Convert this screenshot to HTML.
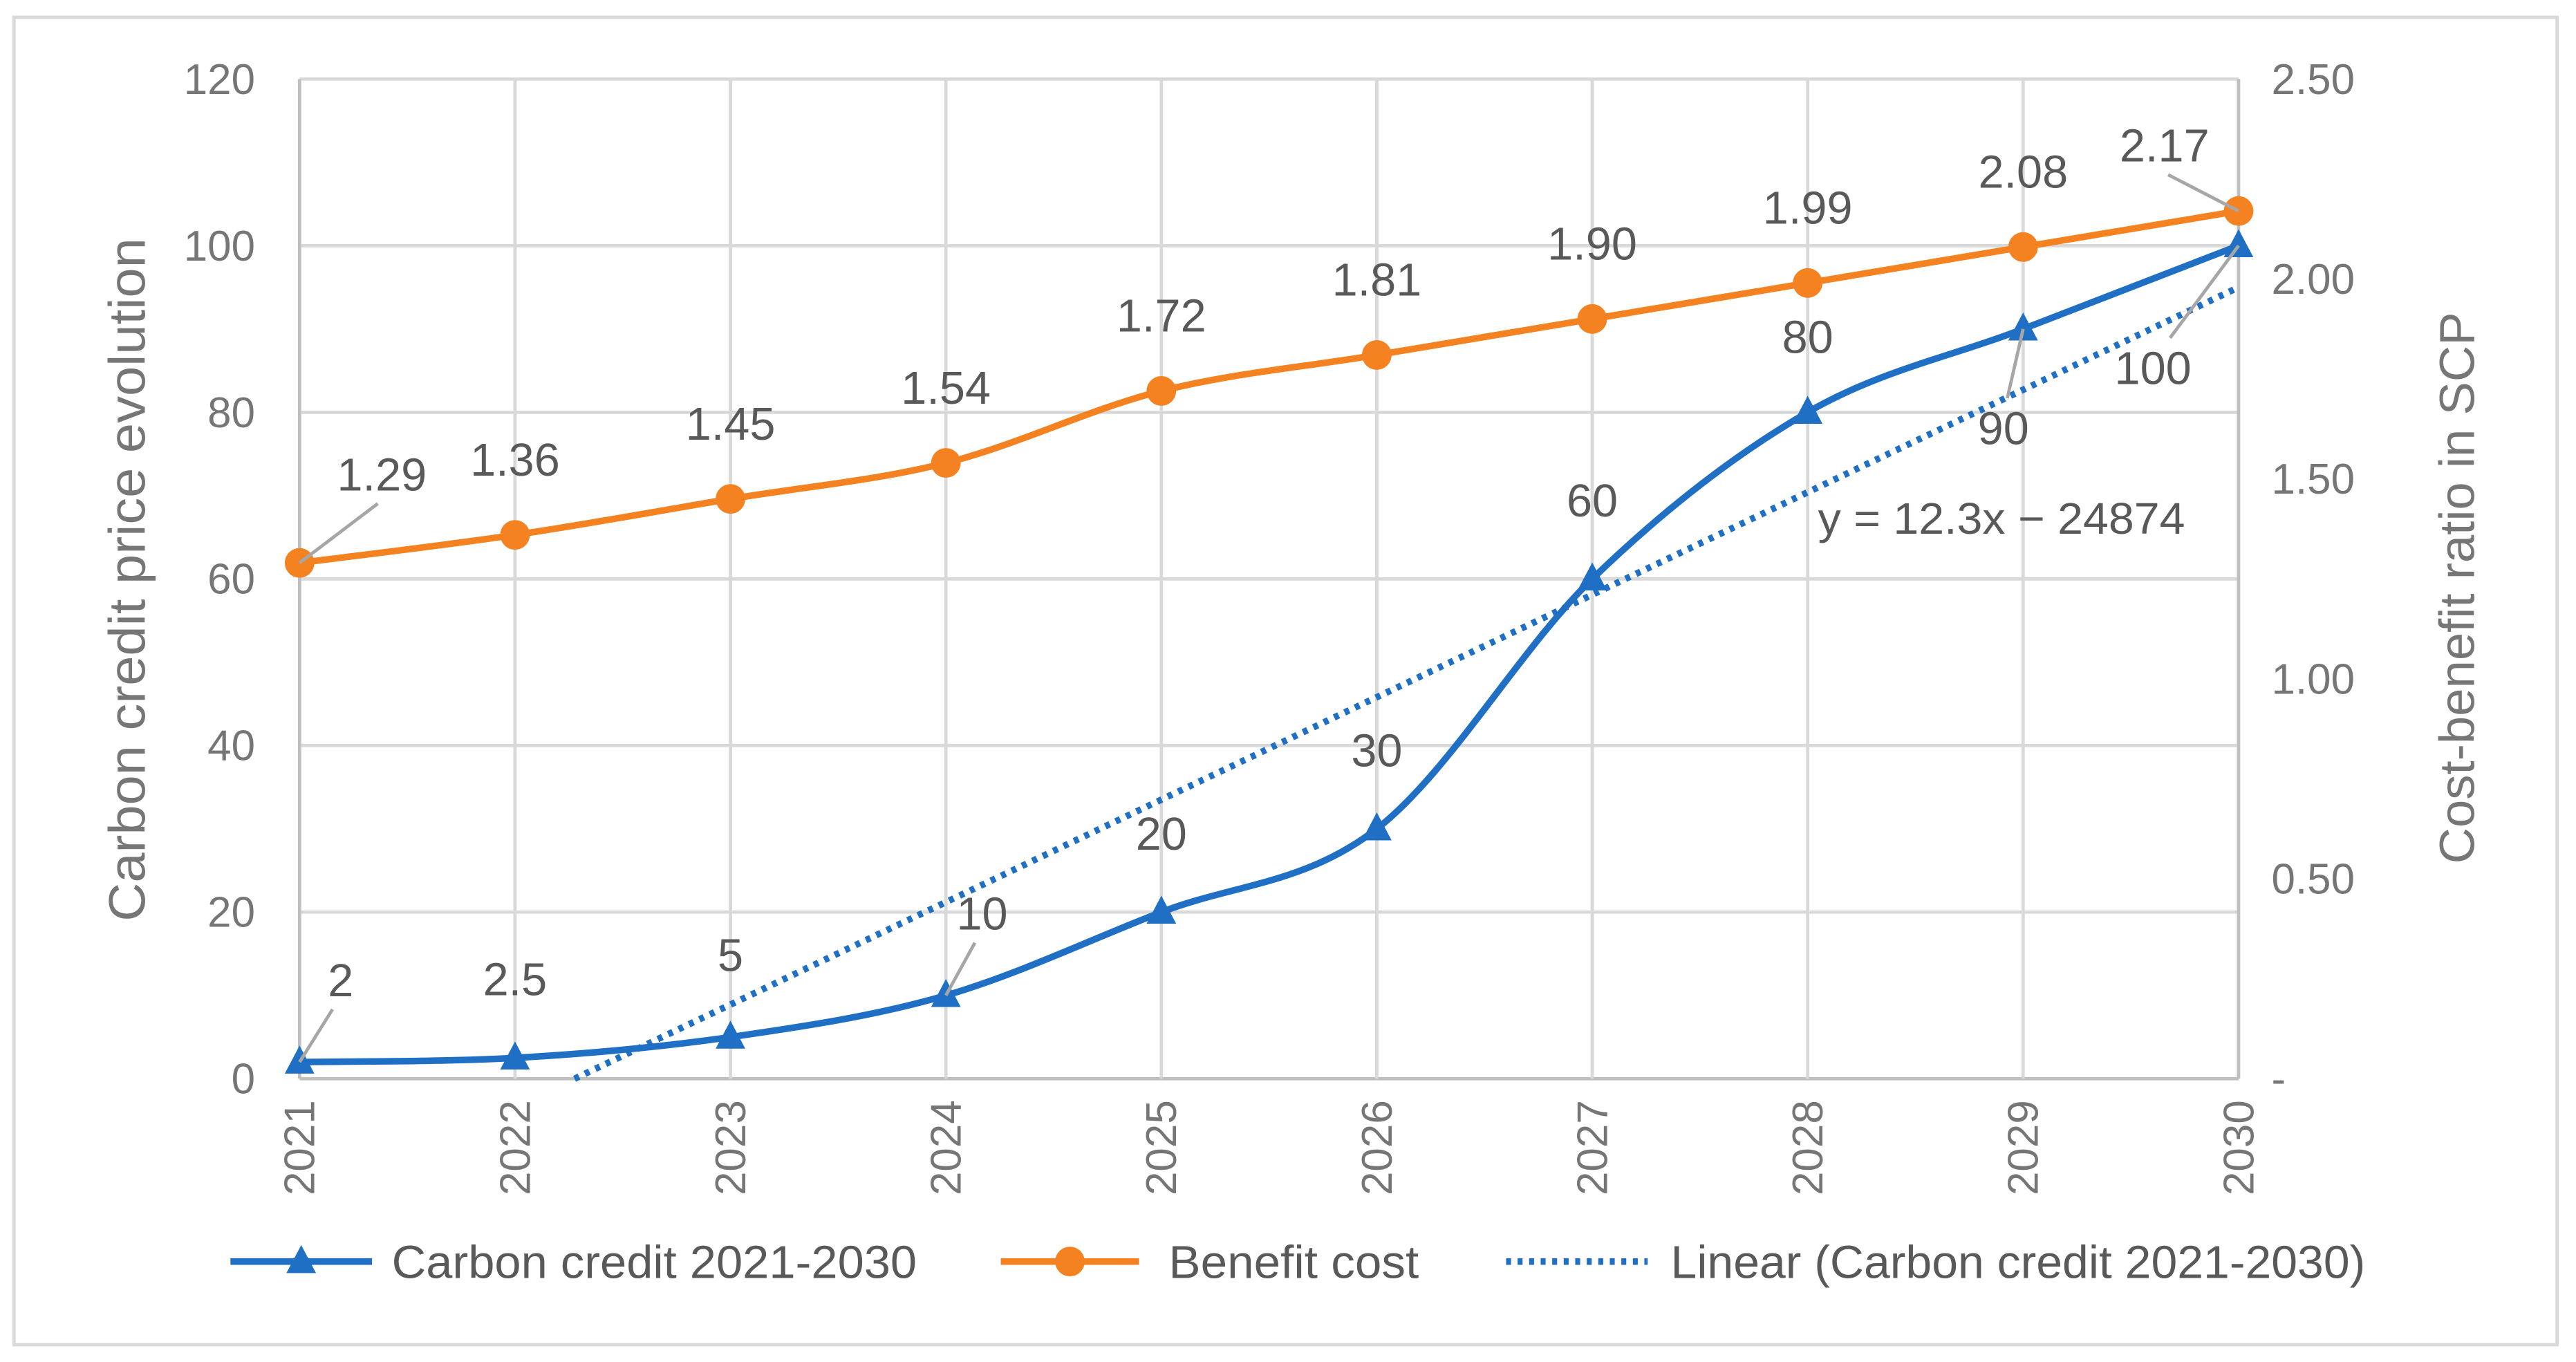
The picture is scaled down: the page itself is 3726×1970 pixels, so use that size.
<!DOCTYPE html>
<html><head><meta charset="utf-8"><style>
html,body{margin:0;padding:0;background:#fff;}
svg{display:block;font-family:"Liberation Sans",sans-serif;}
</style></head><body>
<svg id="chart" width="3726" height="1970" viewBox="0 0 1565 827" preserveAspectRatio="none" xmlns="http://www.w3.org/2000/svg">
<rect x="8.5" y="10.5" width="1545" height="806" fill="#fff" stroke="#d9d9d9" stroke-width="2"/>
<g id="grid"></g><g id="trend"></g><g id="series"></g><g id="labels"></g>
<text transform="translate(88,352) rotate(-90)" text-anchor="middle" font-size="31" fill="#767676" textLength="415" lengthAdjust="spacingAndGlyphs">Carbon credit price evolution</text>
<text transform="translate(1503,357) rotate(-90)" text-anchor="middle" font-size="30" fill="#767676" textLength="335" lengthAdjust="spacingAndGlyphs">Cost-benefit ratio in SCP</text>
<text x="1216" y="324" text-anchor="middle" font-size="27" fill="#595959" textLength="223" lengthAdjust="spacingAndGlyphs">y = 12.3x − 24874</text>
<g>
<line x1="140" y1="766" x2="226" y2="766" stroke="#1f6fc4" stroke-width="4"/>
<path d="M183,756 L192,773 L174,773 Z" fill="#1f6fc4"/>
<text x="238" y="776" font-size="28" fill="#595959" textLength="319" lengthAdjust="spacingAndGlyphs">Carbon credit 2021-2030</text>
<line x1="608" y1="766" x2="692" y2="766" stroke="#f58220" stroke-width="4"/>
<circle cx="650" cy="766" r="9" fill="#f58220"/>
<text x="710" y="776" font-size="28" fill="#595959" textLength="152" lengthAdjust="spacingAndGlyphs">Benefit cost</text>
<line x1="915" y1="766" x2="1001" y2="766" stroke="#1f6fc4" stroke-width="4" stroke-dasharray="3,4"/>
<text x="1015" y="776" font-size="28" fill="#595959" textLength="422" lengthAdjust="spacingAndGlyphs">Linear (Carbon credit 2021-2030)</text>
</g>
</svg>
<script>
const years = [2021,2022,2023,2024,2025,2026,2027,2028,2029,2030];
const carbon = [2,2.5,5,10,20,30,60,80,90,100];
const benefit = [1.29,1.36,1.45,1.54,1.72,1.81,1.90,1.99,2.08,2.17];
const benefitLabels = ["1.29","1.36","1.45","1.54","1.72","1.81","1.90","1.99","2.08","2.17"];
const leftTicks = [0,20,40,60,80,100,120];
const rightTicks = [0,0.5,1,1.5,2,2.5];
const rightTickLabels = ["-","0.50","1.00","1.50","2.00","2.50"];
const trendSlope = [12.3];
const trendIntercept = [-24874];

const NS="http://www.w3.org/2000/svg";
const X0=182,X1=1360,Y0=655,Y1=48;
const xs=i=>X0+(X1-X0)*i/(years.length-1);
const xy=yr=>X0+(X1-X0)*(yr-years[0])/(years[years.length-1]-years[0]);
const yl=v=>Y0-(Y0-Y1)*v/120;
const yr=v=>Y0-(Y0-Y1)*v/2.5;
function mk(tag,attrs,parent,txt){const e=document.createElementNS(NS,tag);for(const k in attrs)e.setAttribute(k,attrs[k]);if(txt!==undefined)e.textContent=txt;parent.appendChild(e);return e;}
const grid=document.getElementById('grid'),trend=document.getElementById('trend'),ser=document.getElementById('series'),lab=document.getElementById('labels');

leftTicks.forEach(t=>{
  const l=mk('line',{x1:X0,x2:X1,y1:yl(t),y2:yl(t),stroke:t===0?'#bfbfbf':'#d9d9d9','stroke-width':2},grid);
  
  
  const tx=mk('text',{x:155,y:yl(t)+9,'text-anchor':'end','font-size':26,fill:'#767676'},grid,String(t));
  
  
});
rightTicks.forEach((t,i)=>{
  const tx=mk('text',{x:1380,y:yr(t)+9,'font-size':26,fill:'#767676'},grid,rightTickLabels[i]);
  
  
});
years.forEach((y,i)=>{
  const l=mk('line',{x1:xs(i),x2:xs(i),y1:Y1,y2:Y0,stroke:i===0||i===years.length-1?'#bfbfbf':'#d9d9d9','stroke-width':2},grid);
  
  
  const tx=mk('text',{transform:`translate(${xs(i)+9},668) rotate(-90)`,'text-anchor':'end','font-size':26,fill:'#767676'},grid,String(y));
  
  
});

const ty=yrv=>trendSlope[0]*yrv+trendIntercept[0];
const yStart=(0-trendIntercept[0])/trendSlope[0];
const ys=Math.max(years[0],yStart), ye=years[years.length-1];
const tl=mk('line',{x1:xy(ys),y1:yl(ty(ys)),x2:xy(ye),y2:yl(ty(ye)),stroke:'#1f6fc4','stroke-width':4,'stroke-dasharray':'3,4'},trend);



function smooth(pts){
  let d=`M${pts[0][0]},${pts[0][1]}`;
  for(let i=0;i<pts.length-1;i++){
    const p0=pts[Math.max(i-1,0)],p1=pts[i],p2=pts[i+1],p3=pts[Math.min(i+2,pts.length-1)];
    const c1=[p1[0]+(p2[0]-p0[0])/6,p1[1]+(p2[1]-p0[1])/6];
    const c2=[p2[0]-(p3[0]-p1[0])/6,p2[1]-(p3[1]-p1[1])/6];
    d+=` C${c1[0]},${c1[1]} ${c2[0]},${c2[1]} ${p2[0]},${p2[1]}`;
  }
  return d;
}
const bp=benefit.map((v,i)=>[xs(i),yr(v)]);
const bl=mk('path',{d:smooth(bp),fill:'none',stroke:'#f58220','stroke-width':4},ser);


const cp=carbon.map((v,i)=>[xs(i),yl(v)]);
const cl=mk('path',{d:smooth(cp),fill:'none',stroke:'#1f6fc4','stroke-width':4},ser);


bp.forEach(p=>{
  const c=mk('circle',{cx:p[0],cy:p[1],r:9,fill:'#f58220'},ser);
  
  
});
cp.forEach(p=>{
  const t=mk('path',{d:`M${p[0]},${p[1]-10} L${p[0]+9},${p[1]+7} L${p[0]-9},${p[1]+7} Z`,fill:'#1f6fc4'},ser);
  
  
});

const cOff=[[25,-40],[0,-38],[0,-40],[22,-40],[0,-38],[0,-38],[0,-38],[0,-36],[-12,70],[-52,84]];
const bOff=[[50,-44],[0,-36],[0,-36],[0,-36],[0,-36],[0,-36],[0,-36],[0,-36],[0,-36],[-45,-30]];
const cLead={0:1,3:1,8:1,9:1}, bLead={0:1,9:1};
carbon.forEach((v,i)=>{
  const [px,py]=cp[i],[dx,dy]=cOff[i];
  const t=mk('text',{x:px+dx,y:py+dy,'text-anchor':'middle','font-size':28,fill:'#595959'},lab,String(v));
  
  
  if(cLead[i]){
    const ly=dy<0?py+dy+8:py+dy-28;
    const l=mk('line',{x1:px,y1:py,x2:px+dx*0.8,y2:ly,stroke:'#a6a6a6','stroke-width':2},lab);
    
    
  }
});
benefit.forEach((v,i)=>{
  const [px,py]=bp[i],[dx,dy]=bOff[i];
  const t=mk('text',{x:px+dx,y:py+dy,'text-anchor':'middle','font-size':28,fill:'#595959'},lab,benefitLabels[i]);
  
  
  if(bLead[i]){
    const l=mk('line',{x1:px,y1:py,x2:px+dx*0.95,y2:py+dy+8,stroke:'#a6a6a6','stroke-width':2},lab);
    
    
  }
});
</script>
</body></html>
